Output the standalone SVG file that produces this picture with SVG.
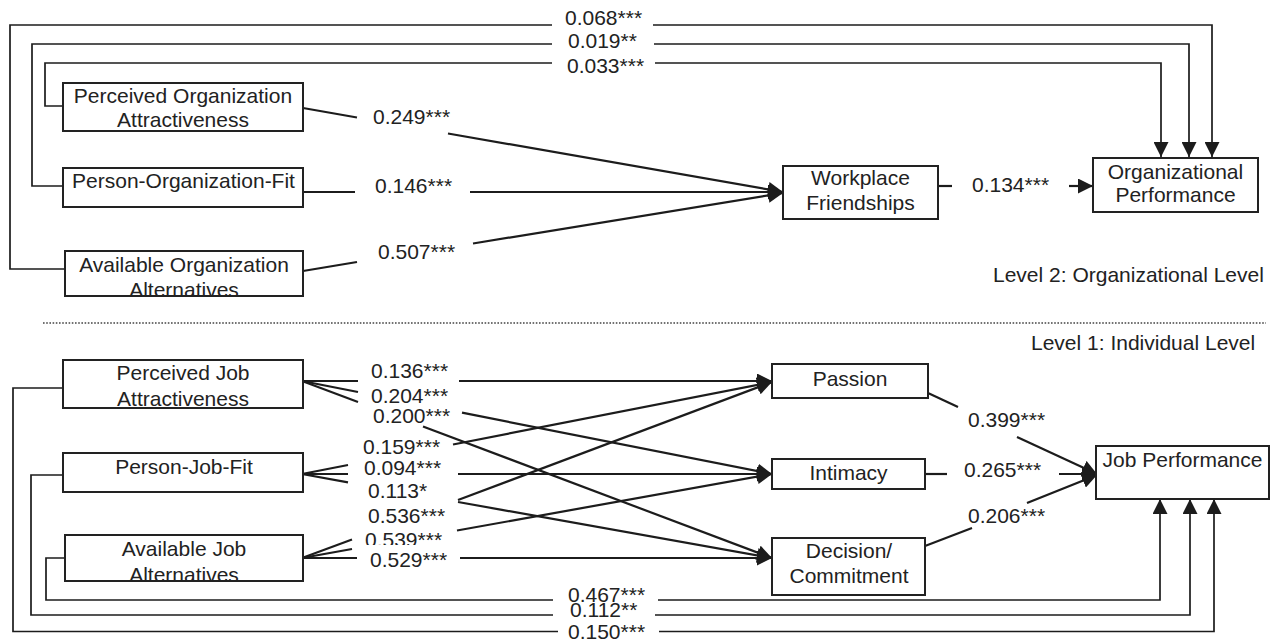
<svg xmlns="http://www.w3.org/2000/svg" width="1277" height="644" viewBox="0 0 1277 644">
  <defs>
    <style>
      .box { fill: #fff; stroke: #222; stroke-width: 2; }
      .frame { fill: none; stroke: #222; stroke-width: 2; }
      .t { font-family: "Liberation Sans", Arial, sans-serif; font-size: 21px; fill: #222; }
      .c { text-anchor: middle; }
      .lnk { fill: none; stroke: #1c1c1c; stroke-width: 2.2; }
      .route { fill: none; stroke: #1c1c1c; stroke-width: 1.7; }
      .arr { marker-end: url(#ah); }
      .sep { stroke: #444; stroke-width: 1.6; stroke-dasharray: 1.6 1.6; }
    </style>
    <marker id="ah" markerWidth="15" markerHeight="15" refX="15" refY="7.5" orient="auto" markerUnits="userSpaceOnUse">
      <path d="M0,0 L15,7.5 L0,15 z" fill="#1c1c1c"/>
    </marker>
  </defs>
  <rect width="1277" height="644" fill="#fff"/>

  <!-- connectors -->
  <g id="connectors">
    <!-- level 2: direct paths routed over the top -->
    <path class="route" d="M65,269 H10 V25 H552"/>
    <path class="route arr" d="M653,25 H1212 V157"/>
    <path class="route" d="M63,186 H32 V44 H552"/>
    <path class="route arr" d="M654,44 H1189 V157"/>
    <path class="route" d="M63,106 H45 V63 H552"/>
    <path class="route arr" d="M655,63 H1161 V157"/>

    <!-- level 2: predictors to workplace friendships -->
    <path class="lnk" d="M303,108 L357,117.5"/>
    <path class="lnk arr" d="M448,133.5 L783,192"/>
    <path class="lnk" d="M303,192 H355"/>
    <path class="lnk arr" d="M470,192 H783"/>
    <path class="lnk" d="M303,271 L357,262"/>
    <path class="lnk arr" d="M473,243.5 L783,193"/>
    <path class="lnk" d="M938,186 H952"/>
    <path class="lnk arr" d="M1069,186 H1093"/>

    <!-- level 1: predictors to passion / intimacy / decision -->
    <path class="lnk" d="M302,381 H358"/>
    <path class="lnk arr" d="M459,381 H772"/>
    <path class="lnk" d="M302,381 L358,392"/>
    <path class="lnk arr" d="M462,412.7 L772,474"/>
    <path class="lnk" d="M302,381 L358,402"/>
    <path class="lnk arr" d="M423,426.5 L772,558"/>

    <path class="lnk" d="M302,474 L348,465"/>
    <path class="lnk arr" d="M453,444.5 L772,382"/>
    <path class="lnk" d="M302,474 H348"/>
    <path class="lnk arr" d="M458,474 H772"/>
    <path class="lnk" d="M302,474 L348,482.3"/>
    <path class="lnk arr" d="M458,502 L772,558"/>

    <path class="lnk" d="M302,558 L352,539.5"/>
    <path class="lnk arr" d="M458,500 L772,382"/>
    <path class="lnk" d="M302,558 L352,549"/>
    <path class="lnk arr" d="M457,530.5 L772,474"/>
    <path class="lnk" d="M302,558 H357"/>
    <path class="lnk arr" d="M460,558 H772"/>

    <!-- level 1: mediators to job performance -->
    <path class="lnk" d="M928,393 L958,407"/>
    <path class="lnk arr" d="M1017,437 L1097,474"/>
    <path class="lnk" d="M925,474 H947"/>
    <path class="lnk arr" d="M1059,474 H1097"/>
    <path class="lnk" d="M925,546 L972,528"/>
    <path class="lnk arr" d="M1027,503 L1097,475"/>

    <!-- level 1: direct paths routed along the bottom -->
    <path class="route" d="M65,558 H46 V600 H553"/>
    <path class="route arr" d="M658,600 H1160 V499"/>
    <path class="route" d="M63,475 H31 V615 H553"/>
    <path class="route arr" d="M655,615 H1190 V499"/>
    <path class="route" d="M63,388 H13 V631.5 H558"/>
    <path class="route arr" d="M659,631.5 H1214 V499"/>
  </g>

  <!-- level divider -->
  <line class="sep" x1="43" y1="323" x2="1266" y2="323"/>
  <text class="t" x="993" y="282">Level 2: Organizational Level</text>
  <text class="t" x="1031" y="350">Level 1: Individual Level</text>

  <!-- path coefficients -->
  <g id="coefficients">
    <text class="t" x="565" y="25">0.068***</text>
    <text class="t" x="568" y="48">0.019**</text>
    <text class="t" x="567" y="73">0.033***</text>
    <text class="t" x="373" y="124">0.249***</text>
    <text class="t" x="375" y="193">0.146***</text>
    <text class="t" x="378" y="259">0.507***</text>
    <text class="t" x="972" y="192">0.134***</text>

    <text class="t" x="371" y="378">0.136***</text>
    <text class="t" x="371" y="403">0.204***</text>
    <text class="t" x="373" y="423">0.200***</text>
    <text class="t" x="363" y="454">0.159***</text>
    <text class="t" x="364" y="475">0.094***</text>
    <text class="t" x="368" y="498">0.113*</text>
    <text class="t" x="368" y="523">0.536***</text>
    <text class="t" x="365" y="547">0.539***</text>
    <rect x="362" y="545" width="90" height="26" fill="#fff"/>
    <text class="t" x="370" y="567">0.529***</text>

    <text class="t" x="968" y="427">0.399***</text>
    <text class="t" x="964" y="477">0.265***</text>
    <text class="t" x="968" y="523">0.206***</text>

    <text class="t" x="568" y="602">0.467***</text>
    <text class="t" x="570" y="617">0.112**</text>
    <text class="t" x="568" y="639">0.150***</text>
  </g>

  <!-- level 2 nodes -->
  <g id="perceived-organization-attractiveness">
    <rect class="box" x="63" y="83" width="240" height="48"/>
    <text class="t c" x="183" y="103">Perceived Organization</text>
    <text class="t c" x="183" y="127">Attractiveness</text>
  </g>
  <g id="person-organization-fit">
    <rect class="box" x="63" y="168" width="240" height="39"/>
    <text class="t c" x="183.5" y="188">Person-Organization-Fit</text>
  </g>
  <g id="available-organization-alternatives">
    <rect class="box" x="65" y="251" width="238" height="45"/>
    <text class="t c" x="184" y="272">Available Organization</text>
    <text class="t c" x="184" y="297">Alternatives</text>
    <rect class="frame" x="65" y="251" width="238" height="45"/>
  </g>
  <g id="workplace-friendships">
    <rect class="box" x="783" y="166" width="155" height="53"/>
    <text class="t c" x="860.5" y="185">Workplace</text>
    <text class="t c" x="860.5" y="210">Friendships</text>
  </g>
  <g id="organizational-performance">
    <rect class="box" x="1093" y="158" width="165" height="54"/>
    <text class="t c" x="1175.5" y="179">Organizational</text>
    <text class="t c" x="1175.5" y="202">Performance</text>
  </g>

  <!-- level 1 nodes -->
  <g id="perceived-job-attractiveness">
    <rect class="box" x="63" y="360" width="240" height="48"/>
    <text class="t c" x="183" y="380">Perceived Job</text>
    <text class="t c" x="183" y="406">Attractiveness</text>
  </g>
  <g id="person-job-fit">
    <rect class="box" x="63" y="453" width="240" height="39"/>
    <text class="t c" x="184" y="474">Person-Job-Fit</text>
  </g>
  <g id="available-job-alternatives">
    <rect class="box" x="65" y="535" width="238" height="46"/>
    <text class="t c" x="184" y="556">Available Job</text>
    <text class="t c" x="184" y="582">Alternatives</text>
    <rect class="frame" x="65" y="535" width="238" height="46"/>
  </g>
  <g id="passion">
    <rect class="box" x="772" y="364" width="156" height="34"/>
    <text class="t c" x="850" y="386">Passion</text>
  </g>
  <g id="intimacy">
    <rect class="box" x="772" y="459" width="153" height="30"/>
    <text class="t c" x="848.5" y="480">Intimacy</text>
  </g>
  <g id="decision-commitment">
    <rect class="box" x="772" y="538" width="153" height="57"/>
    <text class="t c" x="849" y="558">Decision/</text>
    <text class="t c" x="849" y="583">Commitment</text>
  </g>
  <g id="job-performance">
    <rect class="box" x="1096" y="446" width="173" height="53"/>
    <text class="t c" x="1182.5" y="467">Job Performance</text>
  </g>
</svg>
